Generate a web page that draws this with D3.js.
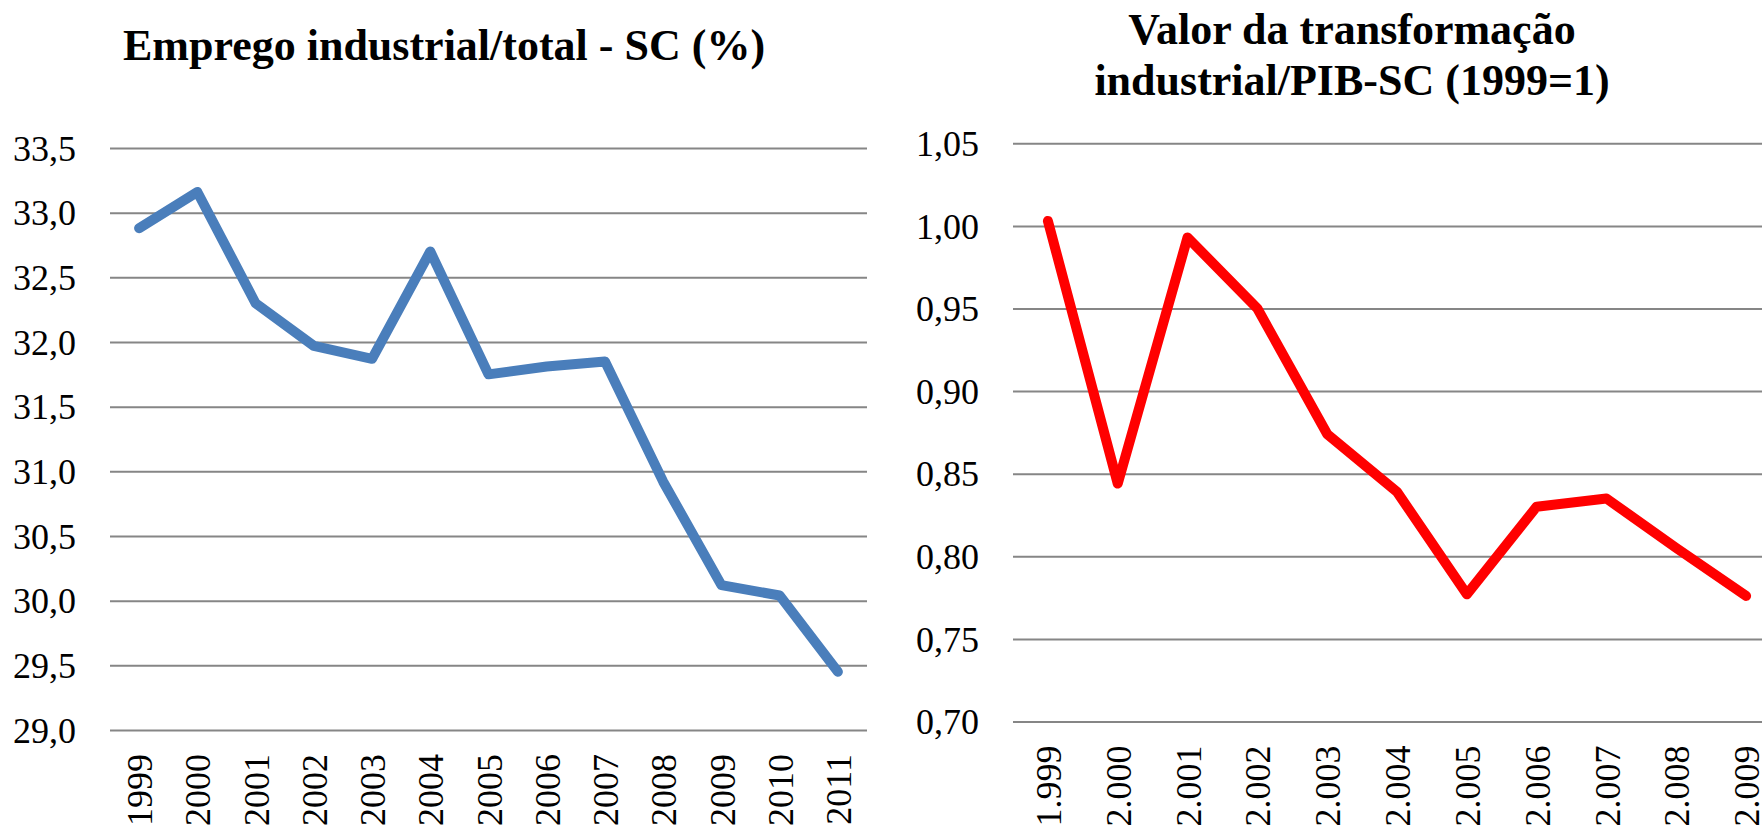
<!DOCTYPE html>
<html>
<head>
<meta charset="utf-8">
<script src="https://cdn.jsdelivr.net/npm/d3@7"></script>
<style>
  html, body { margin: 0; padding: 0; background: #ffffff; overflow: hidden; }
  svg { display: block; }
  text { font-family: "Liberation Serif", "Times New Roman", serif; fill: #000000; }
</style>
</head>
<body>
<div id="chart"></div>
<script>
const WIDTH = 1762;
const HEIGHT = 828;
const GRID_COLOR = "#868686";
const TICK_FONT_SIZE = 36; // as px
const TITLE_FONT_SIZE = 44; // as px

// pt-BR number formatting: "33,5" and "1.999"
const ptBR = d3.formatLocale({
  decimal: ",",
  thousands: ".",
  grouping: [3],
  currency: ["R$", ""]
});

const emprego = [
  { year: 1999, value: 32.88 },
  { year: 2000, value: 33.16 },
  { year: 2001, value: 32.30 },
  { year: 2002, value: 31.97 },
  { year: 2003, value: 31.87 },
  { year: 2004, value: 32.70 },
  { year: 2005, value: 31.75 },
  { year: 2006, value: 31.81 },
  { year: 2007, value: 31.85 },
  { year: 2008, value: 30.92 },
  { year: 2009, value: 30.12 },
  { year: 2010, value: 30.04 },
  { year: 2011, value: 29.45 }
];

const vti = [
  { year: 1999, value: 1.003 },
  { year: 2000, value: 0.844 },
  { year: 2001, value: 0.993 },
  { year: 2002, value: 0.950 },
  { year: 2003, value: 0.874 },
  { year: 2004, value: 0.839 },
  { year: 2005, value: 0.777 },
  { year: 2006, value: 0.830 },
  { year: 2007, value: 0.835 },
  { year: 2008, value: 0.805 },
  { year: 2009, value: 0.776 }
];

const svg = d3
  .select("#chart")
  .append("svg")
  .attr("width", WIDTH)
  .attr("height", HEIGHT)
  .attr("viewBox", `0 0 ${WIDTH} ${HEIGHT}`);

function drawChart(props) {
  const { data, xRange, yRange, domain, ticks, yFormat, xFormat, color, title } = props;

  const x = d3
    .scalePoint()
    .domain(data.map(d => d.year))
    .range(xRange)
    .padding(0.5);

  const y = d3
    .scaleLinear()
    .domain(domain)
    .range(yRange);

  const g = svg.append("g");

  // gridlines + y labels
  g.append("g")
    .attr("transform", `translate(${xRange[0]},0)`)
    .call(
      d3.axisLeft(y)
        .tickValues(ticks)
        .tickSize(-(xRange[1] - xRange[0]))
        .tickPadding(34)
        .tickFormat(yFormat)
    )
    .call(a => a.select(".domain").remove())
    .call(a => a.selectAll("line").attr("stroke", GRID_COLOR).attr("stroke-width", 2))
    .call(a => a.selectAll("text")
      .attr("dy", "0.34em")
      .style("font-size", `${TICK_FONT_SIZE}px`));

  // rotated x labels
  g.append("g")
    .attr("transform", `translate(0,${yRange[0]})`)
    .call(d3.axisBottom(x).tickSize(0).tickFormat(xFormat))
    .call(a => a.select(".domain").remove())
    .selectAll("text")
    .attr("transform", "rotate(-90)")
    .attr("x", -24)
    .attr("y", 0)
    .attr("dy", "0.35em")
    .style("text-anchor", "end")
    .style("font-size", `${TICK_FONT_SIZE}px`);

  const line = d3
    .line()
    .x(d => x(d.year))
    .y(d => y(d.value));

  g.append("path")
    .datum(data)
    .attr("d", line)
    .attr("fill", "none")
    .attr("stroke", color)
    .attr("stroke-width", 10)
    .attr("stroke-linejoin", "round")
    .attr("stroke-linecap", "round");

  const titleText = g.append("text")
    .attr("text-anchor", "middle")
    .style("font-size", `${TITLE_FONT_SIZE}px`)
    .style("font-weight", "bold");

  title.lines.forEach((t, i) => {
    titleText.append("tspan")
      .attr("x", title.x)
      .attr("y", title.y + i * title.lineHeight)
      .text(t);
  });
}

drawChart({
  data: emprego,
  xRange: [110, 867],
  yRange: [730, 148],
  domain: [29, 33.5],
  ticks: d3.range(29, 33.51, 0.5),
  yFormat: ptBR.format(".1f"),
  xFormat: d => String(d),
  color: "#4A7EBB",
  title: { x: 444, y: 60, lineHeight: 0, lines: ["Emprego industrial/total - SC (%)"] }
});

drawChart({
  data: vti,
  xRange: [1013, 1781],
  yRange: [721.5, 143.3],
  domain: [0.70, 1.05],
  ticks: d3.range(0.70, 1.0501, 0.05),
  yFormat: ptBR.format(".2f"),
  xFormat: ptBR.format(",d"),
  color: "#FF0000",
  title: { x: 1352, y: 44, lineHeight: 51, lines: ["Valor da transformação", "industrial/PIB-SC (1999=1)"] }
});
</script>
</body>
</html>
